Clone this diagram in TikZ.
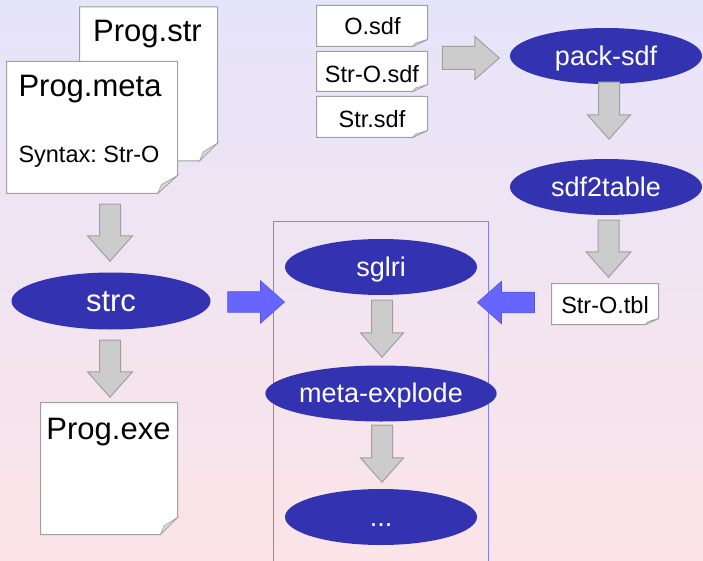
\documentclass[tikz,border=0pt]{standalone}
\usepackage{fontspec}
\setmainfont{Liberation Sans}
\usetikzlibrary{positioning,calc,shapes.geometric,shapes.arrows}

\definecolor{bgtop}{RGB}{230,228,250}
\definecolor{bgbot}{RGB}{252,228,232}
\definecolor{procblue}{RGB}{51,51,178}
\definecolor{flowblue}{RGB}{102,102,255}
\definecolor{flowgray}{RGB}{204,204,204}
\definecolor{edgegray}{RGB}{160,160,160}
\definecolor{foldgray}{RGB}{217,217,217}
\definecolor{framecol}{RGB}{128,128,255}

\frenchspacing

\begin{document}
\begin{tikzpicture}[x=1pt, y=-1pt, line width=1pt,
	proc node/.style={ellipse, fill=procblue, text=white, inner sep=0pt,
		minimum width=192pt, minimum height=56pt, text height=24.3pt, text depth=5.4pt,
		font=\fontsize{27}{32}\selectfont},
	doc node/.style={rectangle, inner sep=0pt},
	big text/.style={anchor=base, inner sep=0pt, font=\fontsize{31}{36}\selectfont},
	small text/.style={anchor=base, inner sep=0pt, font=\fontsize{23.5}{28}\selectfont},
	gray arrow/.style={single arrow, fill=flowgray, draw=edgegray, inner sep=10pt,
		minimum height=57pt, single arrow head extend=12pt,
		single arrow tip angle=83, anchor=tip},
	blue arrow/.style={gray arrow, fill=flowblue, draw=flowblue!85!black, line width=0.6pt}]

	\clip (0,0) rectangle (703,561);
	\shade[top color=bgtop, bottom color=bgbot] (0,0) rectangle (703,561);

	% box round the parser steps
	\draw[framecol] (273,222) rectangle (488,580);

	% files
	\node[doc node, minimum width=137pt, minimum height=153pt] (str) at (148.5,84) {};
	\node[doc node, minimum width=170pt, minimum height=131pt] (meta) at (92,127.5) {};
	\node[doc node, minimum width=136pt, minimum height=131pt] (exe) at (109,468.5) {};
	\node[doc node, minimum width=110pt, minimum height=40pt] (osdf) at (372,26) {};
	\node[doc node, minimum width=110pt, minimum height=39pt] (strosdf) at (372,71.5) {};
	\node[doc node, minimum width=110pt, minimum height=40pt] (sdf) at (372,117) {};
	\node[doc node, minimum width=106pt, minimum height=40pt] (tbl) at (605,304) {};

	% sheets with a folded corner
	\foreach \n/\fx/\fy in {str/18/18,meta/20/18,exe/17/17,osdf/15/7,strosdf/15/7,sdf/15/7,tbl/13/6}{
		\filldraw[fill=white, draw=edgegray]
			(\n.north west) -- (\n.north east) -- ($(\n.south east)+(0,-\fy)$)
			-- ($(\n.south east)+(-\fx,0)$) -- (\n.south west) -- cycle;
		\filldraw[fill=foldgray, draw=edgegray, line width=0.6pt]
			($(\n.south east)+(-\fx,0)$) -- ($(\n.south east)+(0,-\fy)$)
			-- ($(\n.south east)+(-0.8*\fx,-0.5*\fy)$) -- cycle;
	}

	\node[big text] (strtxt) at (147.5,42) {Prog.str};
	\node[big text, anchor=base west] (metatxt) at (18,97) {Prog.meta};
	\node[small text, anchor=base west] (syntax) at (18,163) {Syntax: Str-O};
	\node[big text] (exetxt) at (108.5,439) {Prog.exe};
	\node[small text] (osdftxt) at (372.5,35) {O.sdf};
	\node[small text] (strosdftxt) at (372,83) {Str-O.sdf};
	\node[small text] (sdftxt) at (372,128) {Str.sdf};
	\node[small text] (tbltxt) at (605,313) {Str-O.tbl};

	% tools
	\node[proc node, minimum width=199pt, minimum height=57pt, text height=27.9pt,
		text depth=6.2pt, font=\fontsize{31}{36}\selectfont] (strc) at (111,301) {strc};
	\node[proc node] (sglri) at (381,267) {sglri};
	\node[proc node] (explode) at (381,393.5) {meta-explode};
	\node[proc node] (dots) at (381,517) {...};
	\node[proc node] (pack) at (606,56) {pack-sdf};
	\node[proc node] (table) at (606,187) {sdf2table};

	% flow, placed by the tips
	\node[gray arrow, shape border rotate=270] (a1) at (110,262) {};
	\node[gray arrow, shape border rotate=270] (a2) at (110,398) {};
	\node[gray arrow, inner sep=11pt, single arrow head extend=10pt] (a3) at (500,58) {};
	\node[gray arrow, shape border rotate=270, single arrow head extend=11pt] (a4) at (609,140) {};
	\node[gray arrow, shape border rotate=270] (a5) at (608.5,278) {};
	\node[gray arrow, shape border rotate=270, single arrow head extend=11pt] (a6) at (382,358) {};
	\node[gray arrow, shape border rotate=270, single arrow head extend=11pt] (a7) at (382,483) {};
	\node[blue arrow, single arrow head extend=11pt] (b1) at (285,302) {};
	\node[blue arrow, single arrow head extend=11pt, shape border rotate=180] (b2) at (477,302.5) {};
\end{tikzpicture}
\end{document}
